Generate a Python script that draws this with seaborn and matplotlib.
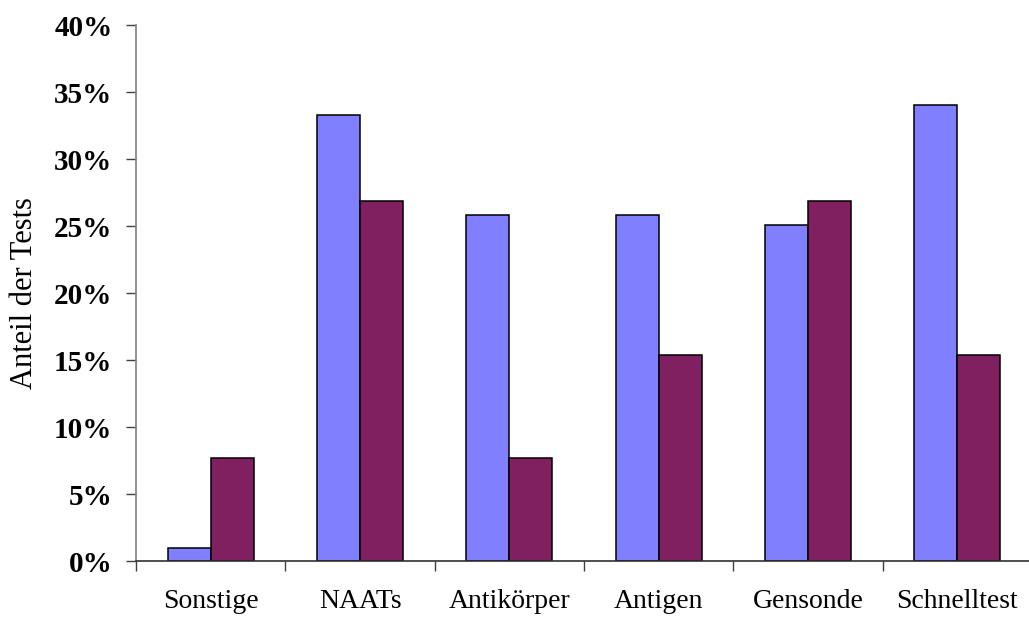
import matplotlib
matplotlib.use("Agg")
import matplotlib.pyplot as plt
from matplotlib.ticker import FixedLocator, PercentFormatter
import seaborn as sns
import pandas as pd

categories = ["Sonstige", "NAATs", "Antikörper", "Antigen", "Gensonde", "Schnelltest"]
series_names = ["Serie 1", "Serie 2"]
values_serie1 = [1.0, 33.3, 25.8, 25.8, 25.1, 34.0]
values_serie2 = [7.7, 26.9, 7.7, 15.4, 26.9, 15.4]
y_ticks = [0, 5, 10, 15, 20, 25, 30, 35, 40]

df = pd.DataFrame({
    "Kategorie": categories * 2,
    "Serie": [series_names[0]] * len(categories) + [series_names[1]] * len(categories),
    "Anteil": values_serie1 + values_serie2,
})

sns.set_theme(style="white", rc={
    "text.color": "black", "axes.labelcolor": "black",
    "xtick.color": "black", "ytick.color": "black",
    "xtick.bottom": True, "ytick.left": True,
})
plt.rcParams["font.family"] = ["Liberation Serif", "DejaVu Serif"]

fig = plt.figure(figsize=(10.29, 6.19), dpi=100)
ax = fig.add_axes([0.1322, 0.0932, 0.8708, 0.8664])

sns.barplot(
    data=df, x="Kategorie", y="Anteil", hue="Serie",
    order=categories, hue_order=series_names,
    palette=["#8080FF", "#802060"], saturation=1,
    width=0.576, gap=0, edgecolor="black", linewidth=1.1,
    legend=False, ax=ax,
)

ax.set_xlim(-0.5, len(categories) - 0.5)
ax.set_ylim(0, 40)
ax.yaxis.set_major_locator(FixedLocator(y_ticks))
ax.yaxis.set_major_formatter(PercentFormatter(decimals=0))

# category boundaries carry the visible tick marks
ax.xaxis.set_minor_locator(FixedLocator([i - 0.5 for i in range(len(categories) + 1)]))
ax.tick_params(axis="x", which="major", bottom=True, length=0, pad=20, labelsize=20,
               labelcolor="black")
ax.tick_params(axis="x", which="minor", bottom=True, length=7, width=1, color="#404040",
               direction="out")
ax.tick_params(axis="y", which="major", left=True, length=7, width=1, color="#404040",
               direction="out", pad=10, labelsize=21, labelcolor="black")
for lbl in ax.get_yticklabels():
    lbl.set_fontweight("bold")

ax.set_xlabel("")
ax.set_ylabel("Anteil der Tests", fontsize=22, labelpad=11, color="black")

for side in ("top", "right"):
    ax.spines[side].set_visible(False)
ax.spines["left"].set_color("#808080")
ax.spines["left"].set_linewidth(1.2)
ax.spines["bottom"].set_color("#303030")
ax.spines["bottom"].set_linewidth(1.2)
ax.grid(False)

fig.savefig("out.png", dpi=100)
